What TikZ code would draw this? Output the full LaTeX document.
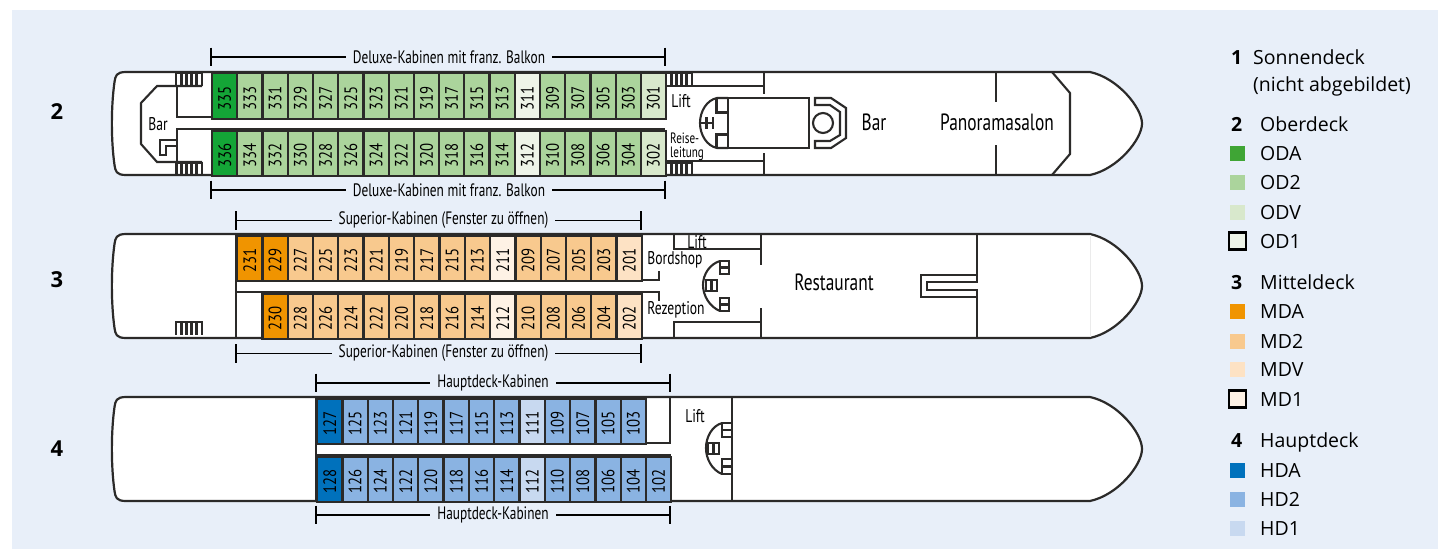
\documentclass[tikz,border=0pt]{standalone}
\usepackage{fontspec}
\usepackage{graphicx}
\setmainfont{Open Sans}
\newfontfamily\condf[FakeStretch=0.74]{PT Sans}
\newfontfamily\cabf[FakeStretch=0.82]{PT Sans}
\definecolor{bgc}{HTML}{E8EFF9}
\definecolor{ink}{HTML}{2B2A29}
\definecolor{oda}{HTML}{14A537}
\definecolor{odal}{HTML}{3FA535}
\definecolor{odb}{HTML}{ABD49C}
\definecolor{odv}{HTML}{D8E8CC}
\definecolor{odo}{HTML}{EEF4E8}
\definecolor{mda}{HTML}{F09400}
\definecolor{mdb}{HTML}{F8C98E}
\definecolor{mdv}{HTML}{FDE2C4}
\definecolor{mdo}{HTML}{FEF2E5}
\definecolor{hda}{HTML}{0071BC}
\definecolor{hdb}{HTML}{8AB3E2}
\definecolor{hdo}{HTML}{C8D9F0}
\tikzset{
  wall/.style={draw=ink,line width=2.1pt,line cap=butt,line join=miter},
  hull/.style={draw=ink,line width=2.2pt,fill=white},
  cabin/.style={draw=ink,line width=2.2pt,inner sep=0pt,text=black,font=\cabf\fontsize{18}{18}\selectfont,anchor=north west,minimum width=25.2pt,minimum height=45.5pt},
  roomlbl/.style={text=black,inner sep=0pt,font=\condf\fontsize{23.5}{23.5}\selectfont},
  smalllbl/.style={text=black,inner sep=0pt,font=\condf\fontsize{18.4}{18.4}\selectfont},
  brlbl/.style={text=black,inner sep=0pt,font=\condf\fontsize{18}{18}\selectfont},
  brline/.style={draw=black,line width=1.2pt},
  decknum/.style={text=black,inner sep=0pt,font=\fontsize{22}{22}\selectfont\bfseries},
  legnum/.style={text=black,inner sep=0pt,anchor=west,text height=14pt,text depth=0pt,font=\fontsize{19.5}{19.5}\selectfont\bfseries},
  legtxt/.style={text=black,inner sep=0pt,anchor=west,text height=14pt,text depth=0pt,font=\fontsize{19.5}{19.5}\selectfont},
  swatch/.style={inner sep=0pt,minimum size=15pt},
  swatchbox/.style={draw=black,line width=2.4pt,inner sep=0pt,minimum size=17pt},
}
\newcommand{\cabinnode}[5]{% name, x, y, fill, text
  \node[cabin,fill=#4] (#1) at (#2,#3) {\rotatebox{90}{#5\kern5pt}};}
\newcommand{\hullpath}[2]{% top, bottom
  \path[hull] (126,#1) .. controls (116,#1) and (115.5,#1+4) .. (114.5,#1+10)
    .. controls (111,#1+35) and (111,#2-35) .. (114.5,#2-10)
    .. controls (115.5,#2-4) and (116,#2) .. (126,#2) -- (1090,#2)
    .. controls (1118,#2-6) and (1142,#2-36) .. (1142,{(#1+#2)/2})
    .. controls (1142,#1+36) and (1118,#1+6) .. (1090,#1) -- cycle;}
\newcommand{\stairs}[2]{% left x, top y
  \fill[ink] (#1,#2) rectangle ++(28,2);
  \foreach \i in {0,...,5} {\fill[ink] ({#1+\i*5.1},#2) rectangle ++(2.4,13.5);}}
\newcommand{\bracket}[6]{% prefix, xl, xr, y, text centre x, text
  \coordinate (#1L) at (#2,#4);
  \coordinate (#1R) at (#3,#4);
  \node[brlbl] (#1T) at (#5,#4) {#6};
  \draw[brline] (#1L) -- ([xshift=-7pt]#1T.west);
  \draw[brline] (#1R) -- ([xshift=7pt]#1T.east);
  \draw[brline] ([yshift=9.5pt]#1L) -- ([yshift=-9pt]#1L);
  \draw[brline] ([yshift=9.5pt]#1R) -- ([yshift=-9pt]#1R);}
\begin{document}
\begin{tikzpicture}[x=1pt,y=-1pt]
\useasboundingbox (0,0) rectangle (1438,550);
\fill[white] (0,0) rectangle (1438,550);
\fill[bgc] (12,10) rectangle (1438,548.5);

% ---------- deck 2
\hullpath{72}{175}
\draw[wall] (202,86) -- (157,86) -- (141,103) -- (141,144) -- (157,162) -- (202,162);
\draw[wall] (177,86) -- (177,117) -- (665,117);
\draw[wall] (177,175) -- (177,129) -- (665,129);
\draw[wall] (177,140) -- (160,140) -- (160,155) -- (166,155) -- (166,146) -- (177,146);
\stairs{175}{72}
\stairs{175}{162}
\foreach \n [count=\c from 0] in {335,333,...,301} {
  \pgfmathsetmacro{\xx}{211+\c*25.22}
  \ifnum\n=335 \def\cc{oda}\else\ifnum\n=311 \def\cc{odo}\else\ifnum\n=301 \def\cc{odv}\else\def\cc{odb}\fi\fi\fi
  \cabinnode{c\n}{\xx}{72}{\cc}{\n}
}
\foreach \n [count=\c from 0] in {336,334,...,302} {
  \pgfmathsetmacro{\xx}{211+\c*25.22}
  \ifnum\n=336 \def\cc{oda}\else\ifnum\n=312 \def\cc{odo}\else\ifnum\n=302 \def\cc{odv}\else\def\cc{odb}\fi\fi\fi
  \cabinnode{c\n}{\xx}{129.5}{\cc}{\n}
}
\stairs{665}{72}
\stairs{665}{162}
\draw[wall] (665,86) -- (764,86);
\draw[wall] (764,72) -- (764,94);
\draw[wall] (665,161) -- (764,161);
\draw[wall] (764,153) -- (764,175);
\draw[wall] (728,98) rectangle (809,148);
\draw[wall] (728,98) -- (717,98) .. controls (707,100) and (700,111) .. (700,123) .. controls (700,135) and (707,146) .. (717,148) -- (728,148);
\draw[wall] (716.5,98) -- (716.5,112.5) -- (728,112.5);
\draw[wall] (716.5,148) -- (716.5,134.5) -- (728,134.5);
\draw[wall] (700,123) -- (713,123);
\draw[wall] (713,117) -- (713,129);
\draw[wall] (706.5,117) -- (706.5,129);
\draw[wall] (815,105) -- (815,98) -- (831,98) -- (846,108) -- (846,138) -- (831,148) -- (815,148) -- (815,141) -- (830,141) -- (840,135) -- (840,112) -- (830,105) -- cycle;
\draw[wall] (823,123) circle (10);
\draw[wall] (996,72) -- (996,102);
\draw[wall] (996,145) -- (996,175);
\draw[wall] (1052,72) -- (1070,93) -- (1070,154) -- (1052,175);
\node[smalllbl] (barA) at (158,124) {Bar};
\node[smalllbl] (liftA) at (681,101) {Lift};
\node[smalllbl,anchor=west,align=left,font=\condf\fontsize{15}{13.5}\selectfont] (reise) at (670,147) {Reise-\\leitung};
\node[roomlbl] (barB) at (874,122) {Bar};
\node[roomlbl] (pano) at (997,122) {Panoramasalon};

% ---------- deck 3
\hullpath{234}{338}
\draw[draw=black!8,line width=.5pt] (1090,235) -- (1090,337);
\draw[wall] (236,234) -- (236,338);
\draw[wall] (641,280) -- (659,280) -- (659,271);
\draw[wall] (641,292) -- (659,292) -- (659,301);
\draw[wall] (236,280) -- (641,280);
\draw[wall] (236,292) -- (641,292);
\foreach \n [count=\c from 0] in {231,229,...,201} {
  \pgfmathsetmacro{\xx}{236+\c*25.3}
  \ifnum\n>228 \def\cc{mda}\else\ifnum\n=211 \def\cc{mdo}\else\ifnum\n=201 \def\cc{mdv}\else\def\cc{mdb}\fi\fi\fi
  \cabinnode{c\n}{\xx}{234.5}{\cc}{\n}
}
\foreach \n [count=\c from 1] in {230,228,...,202} {
  \pgfmathsetmacro{\xx}{236+\c*25.3}
  \ifnum\n=230 \def\cc{mda}\else\ifnum\n=212 \def\cc{mdo}\else\ifnum\n=202 \def\cc{mdv}\else\def\cc{mdb}\fi\fi\fi
  \cabinnode{c\n}{\xx}{292.5}{\cc}{\n}
}
\stairs{175}{321}
\draw[wall] (674,234) -- (674,249) -- (761,249);
\draw[wall] (761,234) -- (761,265);
\draw[wall] (674,338) -- (674,322) -- (761,322);
\draw[wall] (761,308) -- (761,338);
\draw[wall] (720,261) .. controls (710,264) and (703,274) .. (703,285) .. controls (703,296) and (710,307) .. (720,311);
\draw[wall] (720,261) rectangle (729,274); \draw[wall] (720,267.5) -- (729,267.5);
\draw[wall] (720,298) rectangle (729,311); \draw[wall] (720,304.5) -- (729,304.5);
\draw[wall] (706,280) rectangle (717,291); \draw[wall] (711.5,280) -- (711.5,291);
\draw[wall] (977,234) -- (977,282) -- (927,282) -- (927,290) -- (977,290) -- (977,338);
\draw[wall] (977,275) -- (921,275) -- (921,297) -- (977,297);
\node[smalllbl] (lift3) at (697,242) {Lift};
\node[smalllbl] (bordshop) at (675,260) {Bordshop};
\node[smalllbl] (rezeption) at (676,310) {Rezeption};
\node[roomlbl] (rest) at (834,282) {Restaurant};

% ---------- deck 4
\hullpath{397}{501}
\draw[wall] (316,397) -- (316,501);
\draw[wall] (316,443) -- (670,443) -- (670,397);
\draw[wall] (316,455) -- (670,455) -- (670,501);
\foreach \n [count=\c from 0] in {127,125,...,103} {
  \pgfmathsetmacro{\xx}{316+\c*25.3}
  \ifnum\n=127 \def\cc{hda}\else\ifnum\n=111 \def\cc{hdo}\else\def\cc{hdb}\fi\fi
  \cabinnode{c\n}{\xx}{397.5}{\cc}{\n}
}
\foreach \n [count=\c from 0] in {128,126,...,102} {
  \pgfmathsetmacro{\xx}{316+\c*25.3}
  \ifnum\n=128 \def\cc{hda}\else\ifnum\n=112 \def\cc{hdo}\else\def\cc{hdb}\fi\fi
  \cabinnode{c\n}{\xx}{455.5}{\cc}{\n}
}
\draw[wall] (732,397) -- (732,501);
\draw[wall] (722,423) .. controls (712,426) and (706,437) .. (706,448) .. controls (706,459) and (712,470) .. (722,474);
\draw[wall] (722,423) rectangle (732,437); \draw[wall] (722,430) -- (732,430);
\draw[wall] (722,459) rectangle (732,474); \draw[wall] (722,466.5) -- (732,466.5);
\draw[wall] (708,443) rectangle (719,454); \draw[wall] (713.5,443) -- (713.5,454);
\node[smalllbl] (lift4) at (695,416) {Lift};

% ---------- brackets
\bracket{bA}{211}{665}{57}{449}{Deluxe-Kabinen mit franz. Balkon}
\bracket{bB}{211}{665}{190}{449}{Deluxe-Kabinen mit franz. Balkon}
\bracket{bC}{236}{641}{220.5}{443.5}{Superior-Kabinen (Fenster zu öffnen)}
\bracket{bD}{236}{641}{353.5}{443.5}{Superior-Kabinen (Fenster zu öffnen)}
\bracket{bE}{316}{670}{383}{493}{Hauptdeck-Kabinen}
\bracket{bF}{316}{670}{515}{493}{Hauptdeck-Kabinen}

% ---------- deck numbers
\node[decknum] (n2) at (57,112) {2};
\node[decknum] (n3) at (57,280) {3};
\node[decknum] (n4) at (57,449) {4};

% ---------- legend
\node[legnum] (l1) at (1231,57) {1};
\node[legtxt] (l1t) at (1253,57) {Sonnendeck};
\node[legtxt] (l1u) at (1253,84) {(nicht abgebildet)};
\node[legnum] (l2) at (1231,124) {2};
\node[legtxt] (l2t) at (1260,124) {Oberdeck};
\node[swatch,fill=odal] (sODA) at (1237.5,153) {};
\node[legtxt] (tODA) at (1260,153) {ODA};
\node[swatch,fill=odb] (sOD2) at (1237.5,182) {};
\node[legtxt] (tOD2) at (1260,182) {OD2};
\node[swatch,fill=odv] (sODV) at (1237.5,212) {};
\node[legtxt] (tODV) at (1260,212) {ODV};
\node[swatchbox,fill=odo] (sOD1) at (1237.5,241) {};
\node[legtxt] (tOD1) at (1260,241) {OD1};
\node[legnum] (l3) at (1231,282) {3};
\node[legtxt] (l3t) at (1260,282) {Mitteldeck};
\node[swatch,fill=mda] (sMDA) at (1237.5,311) {};
\node[legtxt] (tMDA) at (1260,311) {MDA};
\node[swatch,fill=mdb] (sMD2) at (1237.5,341) {};
\node[legtxt] (tMD2) at (1260,341) {MD2};
\node[swatch,fill=mdv] (sMDV) at (1237.5,369) {};
\node[legtxt] (tMDV) at (1260,369) {MDV};
\node[swatchbox,fill=mdo] (sMD1) at (1237.5,399) {};
\node[legtxt] (tMD1) at (1260,399) {MD1};
\node[legnum] (l4) at (1231,440) {4};
\node[legtxt] (l4t) at (1260,440) {Hauptdeck};
\node[swatch,fill=hda] (sHDA) at (1237.5,470) {};
\node[legtxt] (tHDA) at (1260,470) {HDA};
\node[swatch,fill=hdb] (sHD2) at (1237.5,499) {};
\node[legtxt] (tHD2) at (1260,499) {HD2};
\node[swatch,fill=hdo] (sHD1) at (1237.5,528) {};
\node[legtxt] (tHD1) at (1260,528) {HD1};
\end{tikzpicture}
\end{document}
